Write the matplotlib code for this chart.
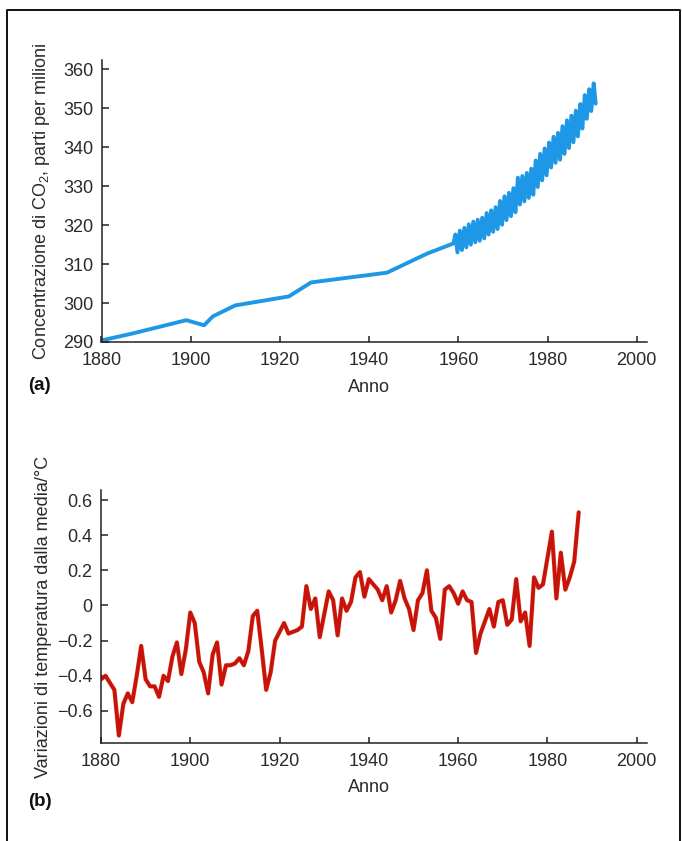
import numpy as np
import matplotlib.pyplot as plt
from matplotlib.lines import Line2D

plt.rcParams["font.family"] = ["Liberation Sans", "DejaVu Sans"]
plt.rcParams["mathtext.default"] = "regular"

# --- (a) CO2 concentration, ppm ---
co2_years = [1880, 1887, 1899, 1903, 1905, 1910, 1922, 1927, 1944, 1953, 1958.9]
co2_values = [290.4, 292.2, 295.6, 294.3, 296.6, 299.4, 301.7, 305.3, 307.8, 312.7, 315.3]

# Mauna Loa seasonal cycle: yearly peak (spring) and trough (autumn)
ml_years = list(range(1959, 1991))
ml_peak = [317.6, 318.6, 319.3, 320.2, 320.9, 321.4, 321.9, 323.1, 323.8, 324.6,
           326.2, 327.4, 328.3, 329.5, 332.2, 332.6, 333.4, 334.5, 336.6, 338.3,
           339.7, 341.2, 342.7, 343.7, 345.4, 346.9, 348.1, 349.4, 351.1, 353.4,
           354.9, 356.4]
ml_trough = [313.0, 313.6, 314.3, 315.0, 315.6, 316.0, 316.6, 317.6, 318.3, 319.0,
             320.1, 321.3, 322.3, 323.3, 325.3, 326.1, 327.0, 327.8, 329.8, 331.5,
             332.8, 334.8, 336.0, 336.8, 338.3, 339.8, 341.3, 342.8, 344.8, 347.3,
             349.3, 351.2]

# --- (b) temperature anomaly, degC ---
temp_years = list(range(1880, 1988))
temp_values = [
    -0.42, -0.40, -0.44, -0.48, -0.74, -0.56, -0.50, -0.55, -0.40, -0.23,
    -0.42, -0.46, -0.46, -0.52, -0.40, -0.43, -0.29, -0.21, -0.39, -0.25,
    -0.04, -0.10, -0.32, -0.38, -0.50, -0.28, -0.21, -0.45, -0.34, -0.34,
    -0.33, -0.30, -0.34, -0.26, -0.06, -0.03, -0.25, -0.48, -0.38, -0.20,
    -0.15, -0.10, -0.16, -0.15, -0.14, -0.12, 0.11, -0.02, 0.04, -0.18,
    -0.05, 0.08, 0.03, -0.17, 0.04, -0.03, 0.02, 0.16, 0.19, 0.05,
    0.15, 0.12, 0.09, 0.03, 0.11, -0.04, 0.03, 0.14, 0.04, -0.02,
    -0.14, 0.03, 0.07, 0.20, -0.03, -0.07, -0.19, 0.09, 0.11, 0.07,
    0.01, 0.08, 0.03, 0.02, -0.27, -0.16, -0.09, -0.02, -0.12, 0.02,
    0.03, -0.11, -0.08, 0.15, -0.09, -0.04, -0.23, 0.16, 0.10, 0.12,
    0.27, 0.42, 0.04, 0.30, 0.09, 0.16, 0.25, 0.53,
]

year_ticks = [1880, 1900, 1920, 1940, 1960, 1980, 2000]
co2_ticks = [290, 300, 310, 320, 330, 340, 350, 360]
temp_ticks = [-0.6, -0.4, -0.2, 0, 0.2, 0.4, 0.6]
temp_ticklabels = ["\u22120.6", "\u22120.4", "\u22120.2", "0", "0.2", "0.4", "0.6"]

W, H = 682, 841
ink = "#2a2a2a"


def style_axes(ax):
    for s in ["top", "right"]:
        ax.spines[s].set_visible(False)
    for s in ["left", "bottom"]:
        ax.spines[s].set_color("#222222")
        ax.spines[s].set_linewidth(1.1)
    ax.tick_params(axis="both", direction="in", color="#222222", width=1.1,
                   labelsize=13, labelcolor=ink)
    ax.tick_params(axis="y", length=5, pad=6)
    ax.tick_params(axis="x", length=4.5, pad=7)
    ax.set_facecolor("none")


def px_axes(left, top, right, bottom):
    return fig.add_axes([left / W, 1 - bottom / H, (right - left) / W, (bottom - top) / H])


fig = plt.figure(figsize=(W / 100, H / 100), dpi=100)

# outer frame
fig.add_artist(Line2D([7 / W, 7 / W, 680 / W, 680 / W], [0, 1 - 10 / H, 1 - 10 / H, 0],
                      transform=fig.transFigure, color="#111111", lw=1.4))

# ---------- (a) ----------
ax1 = px_axes(101.5, 60, 647, 342)
style_axes(ax1)
ml_x, ml_y = [], []
for yr, pk, tr in zip(ml_years, ml_peak, ml_trough):
    ml_x += [yr + 0.35, yr + 0.8]
    ml_y += [pk, tr]
ax1.plot(co2_years + ml_x, co2_values + ml_y, color="#1e98e6", lw=2.8,
         solid_joinstyle="round", solid_capstyle="round")
ax1.set_xlim(1880, 2002.3)
ax1.set_ylim(290, 362.4)
ax1.set_xticks(year_ticks)
ax1.set_yticks(co2_ticks)
ax1.set_xlabel("Anno", fontsize=13, color=ink)
ax1.xaxis.set_label_coords(0.49, -0.13)
ax1.set_ylabel("Concentrazione di CO$_2$, parti per milioni", fontsize=13, color=ink)
ax1.yaxis.set_label_coords(-0.09, 0.5)
fig.text(28 / W, 1 - 385 / H, "(a)", fontsize=13.5, fontweight="bold", va="center", color="#111111")

# ---------- (b) ----------
ax2 = px_axes(101, 490, 647, 743.3)
style_axes(ax2)
ax2.plot(temp_years, temp_values, color="#e8a040", lw=3.4, alpha=0.45,
         solid_joinstyle="round", solid_capstyle="round")
ax2.plot(temp_years, temp_values, color="#c8120e", lw=2.8,
         solid_joinstyle="round", solid_capstyle="round")
ax2.set_xlim(1880, 2002.3)
ax2.set_ylim(-0.784, 0.657)
ax2.set_xticks(year_ticks)
ax2.set_yticks(temp_ticks)
ax2.set_yticklabels(temp_ticklabels)
ax2.set_xlabel("Anno", fontsize=13, color=ink)
ax2.xaxis.set_label_coords(0.49, -0.14)
ax2.set_ylabel("Variazioni di temperatura dalla media/\u00b0C", fontsize=13, color=ink)
ax2.yaxis.set_label_coords(-0.09, 0.5)
fig.text(28 / W, 1 - 801 / H, "(b)", fontsize=13.5, fontweight="bold", va="center", color="#111111")

fig.savefig("out.png", dpi=100)
